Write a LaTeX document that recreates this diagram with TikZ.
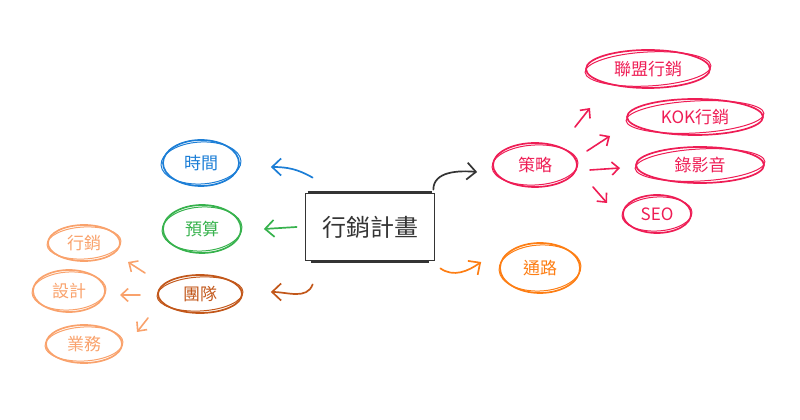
\documentclass[tikz,border=0pt]{standalone}
\usepackage{fontspec}
\setmainfont{Noto Sans CJK TC}
\usetikzlibrary{shapes.geometric,arrows.meta}
\definecolor{ink}{HTML}{343434}
\definecolor{timeblue}{HTML}{1C7ED6}
\definecolor{moneygreen}{HTML}{37B24D}
\definecolor{teambrown}{HTML}{C2571A}
\definecolor{peach}{HTML}{F9A26C}
\definecolor{pathorange}{HTML}{FD7E14}
\definecolor{plotred}{HTML}{EE1D55}
\tikzset{
  idea/.style={ellipse, draw, line width=1.7pt, inner sep=0pt, font=\fontsize{17}{20}\selectfont},
  arr/.style={line width=1.6pt, line cap=round, -{Straight Barb[length=7pt,width=13pt]}},
  bigarr/.style={line width=1.7pt, line cap=round, -{Straight Barb[length=9pt,width=17pt]}},
}

\begin{document}
\begin{tikzpicture}[x=1pt,y=1pt]
  \useasboundingbox (0,0) rectangle (800,420);
  % the plan in the middle
  \node[draw=ink, line width=1.7pt, minimum width=129pt, minimum height=67pt, text=ink, font=\fontsize{24}{28}\selectfont] (plan) at (370,193) {行銷計畫};
  \draw[ink, line width=3pt] ([xshift=3pt]plan.north west) -- ([xshift=-3pt]plan.north east);
  \draw[ink, line width=3pt] ([xshift=6pt]plan.south west) -- ([xshift=-6pt]plan.south east);

  % left side
  \node[idea, draw=timeblue, text=timeblue, minimum width=76pt, minimum height=46pt] (time) at (201,257) {時間};
  \node[idea, draw=moneygreen, text=moneygreen, minimum width=78pt, minimum height=48pt] (budget) at (202,191) {預算};
  \node[idea, draw=teambrown, text=teambrown, minimum width=84pt, minimum height=38pt] (team) at (200,126) {團隊};
  \node[idea, draw=peach, text=peach, minimum width=72pt, minimum height=36pt] (mkt) at (84,177) {行銷};
  \node[idea, draw=peach, text=peach, minimum width=72pt, minimum height=42pt] (design) at (69,129) {設計};
  \node[idea, draw=peach, text=peach, minimum width=76pt, minimum height=38pt] (sales) at (84,76) {業務};

  % right side
  \node[idea, draw=plotred, text=plotred, minimum width=84pt, minimum height=44pt] (strat) at (535,255) {策略};
  \node[idea, draw=plotred, text=plotred, minimum width=124pt, minimum height=38pt] (alliance) at (648,351) {聯盟行銷};
  \node[idea, draw=plotred, text=plotred, minimum width=136pt, minimum height=36pt] (kol) at (695,303) {KOK行銷};
  \node[idea, draw=plotred, text=plotred, minimum width=128pt, minimum height=36pt] (video) at (700,255) {錄影音};
  \node[idea, draw=plotred, text=plotred, minimum width=68pt, minimum height=38pt] (seo) at (657,206) {SEO};
  \node[idea, draw=pathorange, text=pathorange, minimum width=80pt, minimum height=50pt] (channel) at (540,152) {通路};

  % second pencil stroke round each idea
  \foreach \n/\c/\a/\b in {time/timeblue/40/21, budget/moneygreen/40/22, team/teambrown/43/17,
      mkt/peach/37/16, design/peach/37/19, sales/peach/39/17, strat/plotred/43/20,
      alliance/plotred/63/17, kol/plotred/69/16, video/plotred/65/16, seo/plotred/35/17,
      channel/pathorange/41/23}
    \draw[\c, line width=1pt] (\n.center) ellipse[x radius=\a pt, y radius=\b pt, rotate=3];

  % arrows
  \draw[bigarr, timeblue] ([xshift=8pt,yshift=15pt]plan.north west) to[out=150,in=0] ([xshift=31pt,yshift=-4pt]time.east);
  \draw[bigarr, moneygreen] ([xshift=-8pt]plan.west) -- ([xshift=22pt]budget.east);
  \draw[bigarr, teambrown] ([xshift=8pt,yshift=-23pt]plan.south west) to[out=-110,in=0] ([xshift=28pt,yshift=2pt]team.east);
  \draw[bigarr, ink] ([xshift=-2pt,yshift=3pt]plan.north east) to[out=90,in=175] ([xshift=-15pt,yshift=-7pt]strat.west);
  \draw[bigarr, pathorange] ([xshift=5pt,yshift=-7pt]plan.south east) to[out=-35,in=215] ([xshift=-18pt,yshift=6pt]channel.west);

  \draw[arr, peach] ([xshift=-55pt,yshift=21pt]team.center) -- ([xshift=44pt,yshift=-19pt]mkt.center);
  \draw[arr, peach] ([xshift=-60pt,yshift=-1pt]team.center) -- ([xshift=51pt,yshift=-4pt]design.center);
  \draw[arr, peach] ([xshift=-52pt,yshift=-24pt]team.center) -- ([xshift=53pt,yshift=12pt]sales.center);

  \draw[arr, plotred] ([xshift=40pt,yshift=38pt]strat.center) -- ([xshift=-58pt,yshift=-39pt]alliance.center);
  \draw[arr, plotred] ([xshift=52pt,yshift=14pt]strat.center) -- ([xshift=-85pt,yshift=-19pt]kol.center);
  \draw[arr, plotred] ([xshift=55pt,yshift=-5pt]strat.center) -- ([xshift=-80pt,yshift=-3pt]video.center);
  \draw[arr, plotred] ([xshift=58pt,yshift=-22pt]strat.center) -- ([xshift=-50pt,yshift=11pt]seo.center);
\end{tikzpicture}
\end{document}
